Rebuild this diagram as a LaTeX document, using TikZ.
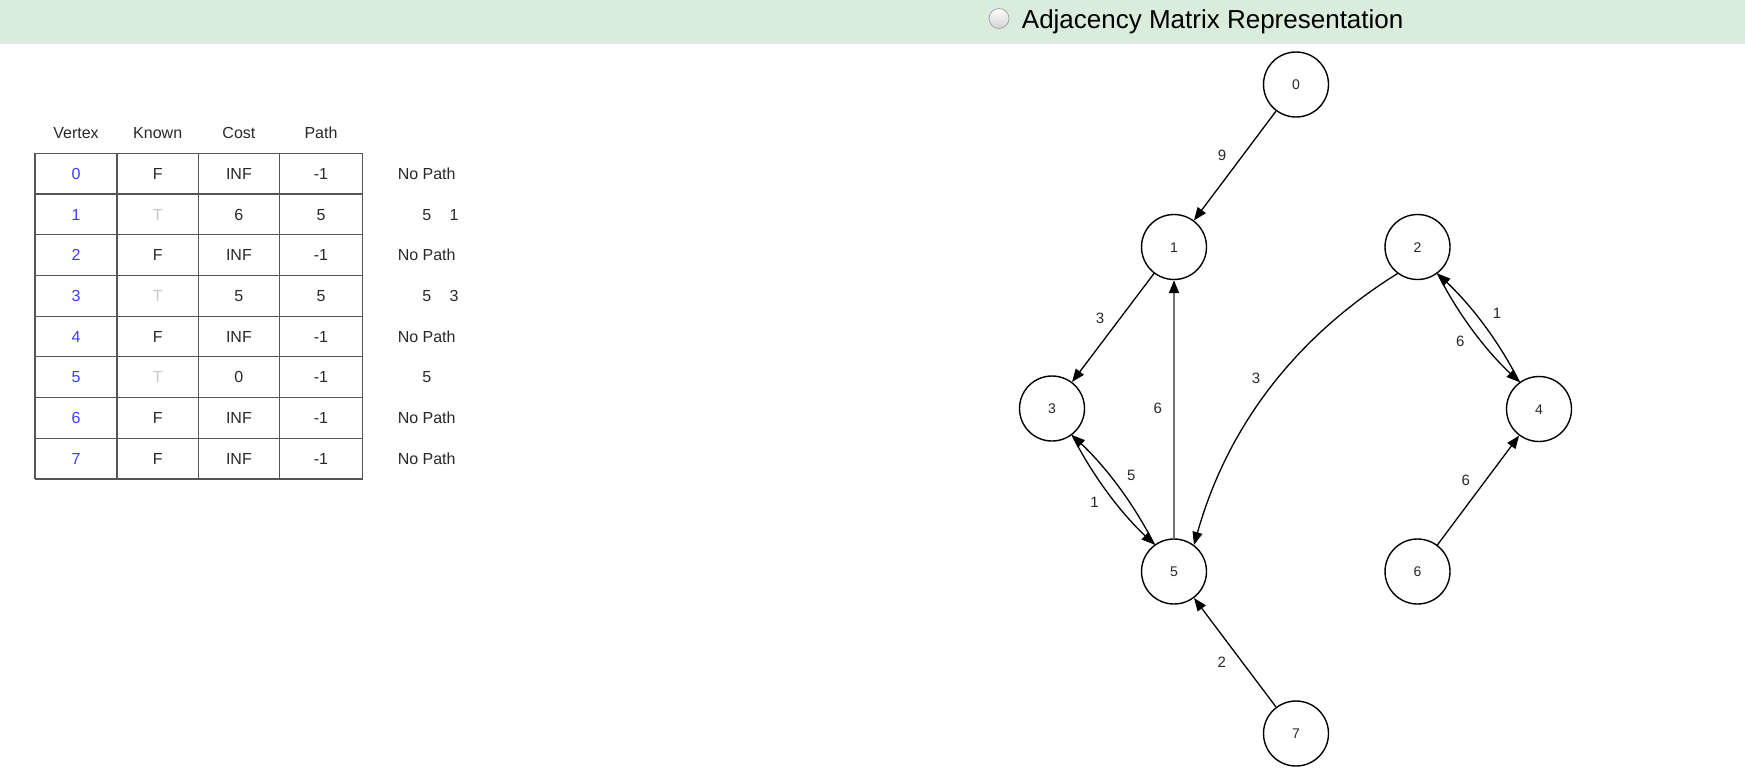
\documentclass[tikz,border=0pt]{standalone}
\usepackage{fontspec}
\setmainfont{Liberation Sans}
\usetikzlibrary{arrows.meta}
\definecolor{band}{RGB}{218,237,220}
\definecolor{txt}{RGB}{40,40,40}
\definecolor{vblue}{RGB}{60,60,255}
\definecolor{tgray}{RGB}{200,200,200}
\definecolor{gridc}{RGB}{85,85,85}
\begin{document}
\begin{tikzpicture}[x=1pt,y=-1pt,
  vtx/.style={circle,draw=black,line width=1.4pt,minimum size=65pt,inner sep=0pt,
    font=\fontsize{14}{16}\selectfont,text=txt,text height=10pt,text depth=0pt},
  edge/.style={line width=1.3pt,-{Triangle[length=13pt,width=10pt]}},
  lbl/.style={font=\fontsize{15}{17}\selectfont,text=txt,inner sep=0pt,text height=10.7pt,text depth=0pt},
  cell/.style={font=\fontsize{16}{18}\selectfont,text=txt,inner sep=0pt,text height=11.5pt,text depth=0pt},
  tline/.style={draw=gridc,line width=1.2pt},
]
\useasboundingbox (0,0) rectangle (1745,782);
\fill[white] (0,0) rectangle (1745,782);
% header band
\fill[band] (0,0) rectangle (1745,43.5);
\node[circle,minimum size=20pt,inner sep=0pt,draw=gray!70,line width=0.8pt,
  top color=white,bottom color=gray!35] (radio) at (999,18.5) {};
\node[anchor=base west,font=\fontsize{26}{30}\selectfont,inner sep=0pt,text=black] (title)
  at (1021.7,28.3) {Adjacency Matrix Representation};

% table headings
\node[cell] (hv) at (76,132.3) {Vertex};
\node[cell] (hk) at (157.7,132.3) {Known};
\node[cell] (hc) at (238.9,132.3) {Cost};
\node[cell] (hp) at (321,132.3) {Path};
% table grid
\foreach \x in {35,117,198.3,279.5,362.5}
  \draw[tline] (\x,153.3) -- (\x,478.9);
\foreach \r in {0,...,8}
  \draw[tline] (35,{153.3+40.7*\r}) -- (362.5,{153.3+40.7*\r});
% table cells
\foreach \i/\k/\kc/\c/\p in {0/F/txt/INF/-1, 1/T/tgray/6/5, 2/F/txt/INF/-1, 3/T/tgray/5/5,
    4/F/txt/INF/-1, 5/T/tgray/0/-1, 6/F/txt/INF/-1, 7/F/txt/INF/-1}{
  \node[cell,text=vblue] (v\i) at (76,{173.65+40.7*\i}) {\i};
  \node[cell,text=\kc] (k\i) at (157.7,{173.65+40.7*\i}) {\k};
  \node[cell] (c\i) at (238.9,{173.65+40.7*\i}) {\c};
  \node[cell] (p\i) at (321,{173.65+40.7*\i}) {\p};
}
% path column
\foreach \i in {0,2,4,6,7}
  \node[cell] (np\i) at (426.7,{173.65+40.7*\i}) {No Path};
\node[cell] (pa1) at (426.7,{173.65+40.7*1}) {5};
\node[cell] (pb1) at (454,{173.65+40.7*1}) {1};
\node[cell] (pa3) at (426.7,{173.65+40.7*3}) {5};
\node[cell] (pb3) at (454,{173.65+40.7*3}) {3};
\node[cell] (pa5) at (426.7,{173.65+40.7*5}) {5};

% graph nodes
\node[vtx] (n0) at (1296,84.5) {0};
\node[vtx] (n1) at (1174,247) {1};
\node[vtx] (n2) at (1417.5,247) {2};
\node[vtx] (n3) at (1052,408.5) {3};
\node[vtx] (n4) at (1539,409) {4};
\node[vtx] (n5) at (1174,571.5) {5};
\node[vtx] (n6) at (1417.5,571.5) {6};
\node[vtx] (n7) at (1296,733.5) {7};

% straight edges
\draw[edge] (n0) -- node[lbl,xshift=-13pt,yshift=10.75pt]{9} (n1);
\draw[edge] (n1) -- node[lbl,xshift=-13pt,yshift=10pt]{3} (n3);
\draw[line width=1.9pt,draw=black!55,-{Triangle[length=13pt,width=10pt,color=black]}]
  (n5) -- node[lbl,xshift=-16.3pt,yshift=1.2pt]{6} (n1);
\draw[edge] (n7) -- node[lbl,xshift=-13.3pt,yshift=-9.2pt]{2} (n5);
\draw[edge] (n6) -- node[lbl,xshift=-12.5pt,yshift=10.2pt]{6} (n4);
% curved edge 2 -> 5
\draw[edge] (n2.233.1) .. controls +(-103.3,64.4) and +(33,-117.3) ..
  node[lbl,xshift=-13.4pt,yshift=11.7pt]{3} (n5.53.1);
% pair 3 <-> 5
\draw[edge] (n3.-53.2) .. controls +(21,41.4) and +(-33.9,-32) ..
  node[lbl,xshift=-13.8pt,yshift=-8.8pt]{1} (n5.126.8);
\draw[edge] (n5.126.8) .. controls +(-21,-41.4) and +(33.9,32) ..
  node[lbl,xshift=13.1pt,yshift=11.5pt]{5} (n3.-53.2);
% pair 2 <-> 4
\draw[edge] (n2.-53.2) .. controls +(21,41.4) and +(-33.9,-32) ..
  node[lbl,xshift=-13.4pt,yshift=-9.5pt]{6} (n4.126.8);
\draw[edge] (n4.126.8) .. controls +(-21,-41.4) and +(33.9,32) ..
  node[lbl,xshift=13.6pt,yshift=11.2pt]{1} (n2.-53.2);
\end{tikzpicture}
\end{document}
